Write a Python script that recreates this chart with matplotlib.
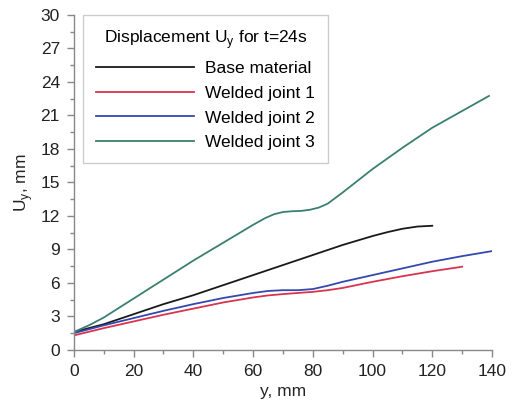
import matplotlib
matplotlib.use("Agg")
import matplotlib.pyplot as plt
from matplotlib.ticker import MultipleLocator

plt.rcParams['font.family'] = ['Liberation Sans', 'DejaVu Sans']

# Data
x_base = [0, 5, 10, 20, 30, 40, 50, 60, 70, 80, 90, 100, 105, 110, 115, 120]
y_base = [1.6, 1.95, 2.3, 3.2, 4.1, 4.9, 5.8, 6.7, 7.6, 8.5, 9.4, 10.2, 10.55, 10.85, 11.05, 11.12]

x_w1 = [0, 10, 20, 30, 40, 50, 60, 65, 70, 75, 80, 85, 90, 100, 110, 120, 130]
y_w1 = [1.3, 1.95, 2.55, 3.15, 3.7, 4.25, 4.7, 4.88, 5.0, 5.1, 5.2, 5.35, 5.55, 6.1, 6.6, 7.05, 7.45]

x_w2 = [0, 10, 20, 30, 40, 50, 60, 65, 70, 75, 80, 85, 90, 100, 110, 120, 130, 140]
y_w2 = [1.5, 2.2, 2.85, 3.5, 4.1, 4.65, 5.1, 5.28, 5.35, 5.35, 5.45, 5.75, 6.1, 6.7, 7.3, 7.9, 8.4, 8.85]

x_w3 = [0, 5, 10, 20, 30, 40, 50, 60, 64, 67, 70, 73, 76, 79, 82, 85, 90, 100, 110, 120, 130, 139]
y_w3 = [1.6, 2.2, 2.9, 4.6, 6.3, 8.0, 9.6, 11.2, 11.8, 12.15, 12.35, 12.42, 12.45, 12.55, 12.75, 13.1, 14.1, 16.2, 18.1, 19.9, 21.4, 22.75]

series = [
    ("Base material", x_base, y_base, "#1a1a1a"),
    ("Welded joint 1", x_w1, y_w1, "#d8344f"),
    ("Welded joint 2", x_w2, y_w2, "#3548b0"),
    ("Welded joint 3", x_w3, y_w3, "#3a8070"),
]

fig = plt.figure(figsize=(5.13, 4.05), dpi=100)
ax = fig.add_axes([0.144, 0.136, 0.815, 0.827])

for label, xs, ys, c in series:
    ax.plot(xs, ys, color=c, lw=1.3, label=label)

ax.set_xlim(0, 140)
ax.set_ylim(0, 30)
ax.xaxis.set_major_locator(MultipleLocator(20))
ax.xaxis.set_minor_locator(MultipleLocator(10))
ax.yaxis.set_major_locator(MultipleLocator(3))
ax.yaxis.set_minor_locator(MultipleLocator(1.5))

for s in ("top", "right"):
    ax.spines[s].set_visible(False)
for s in ("left", "bottom"):
    ax.spines[s].set_color("#888888")
    ax.spines[s].set_linewidth(1.0)

ax.tick_params(which="major", direction="out", length=5, width=1, color="#888888",
               labelsize=12.5, labelcolor="#222222", pad=5)
ax.tick_params(which="minor", direction="out", length=3, width=1, color="#888888")

ax.set_xlabel("y, mm", fontsize=12.5, color="#222222", labelpad=4)
ax.set_ylabel(r"U$_\mathregular{y}$, mm", fontsize=12.5, color="#222222", labelpad=4)

leg = ax.legend(title=r"Displacement U$_\mathregular{y}$ for t=24s", loc="upper left",
                bbox_to_anchor=(0.022, 1.0), fontsize=12.5, title_fontsize=12.5,
                handlelength=5.65, handletextpad=0.63, frameon=True, fancybox=False,
                edgecolor="#c0c0c0", borderpad=0.75, labelspacing=0.56,
                borderaxespad=0)
leg.get_frame().set_linewidth(1.0)

fig.savefig("out.png", dpi=100)
